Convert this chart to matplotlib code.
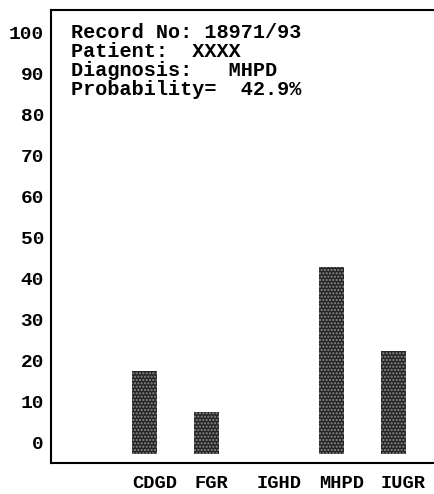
import matplotlib
matplotlib.use('Agg')
import matplotlib.pyplot as plt

# diagnosis probabilities (%)
groups = ['CDGD', 'FGR', 'IGHD', 'MHPD', 'IUGR']
probs = [17.4, 7.4, 0.0, 42.9, 22.3]
yticks = [0, 10, 20, 30, 40, 50, 60, 70, 80, 90, 100]
info = ['Record No: 18971/93',
        'Patient:  XXXX',
        'Diagnosis:   MHPD',
        'Probability=  42.9%']

plt.rcParams['font.family'] = ['Liberation Mono', 'DejaVu Sans Mono']
plt.rcParams['font.weight'] = 'bold'

fig = plt.figure(figsize=(4.34, 4.94), dpi=100)
ax = fig.add_axes([0.1175, 0.0628, 0.8825, 0.917])

base = -2.9
x = list(range(len(groups)))
w = 0.4
bx = [i for i, p in zip(x, probs) if p > 0]
bh = [p - base for p in probs if p > 0]
ax.bar(bx, bh, width=w, bottom=base, color='#262626', edgecolor='#8c8c8c',
       hatch='.....', linewidth=0)

ax.set_xlim(-1.50, 4.65)
ax.set_ylim(-5.0, 105.5)
ax.set_yticks(yticks)
ax.set_yticklabels([str(t) for t in yticks], fontsize=14, fontweight='bold')
ax.set_xticks([i - w / 2 for i in x])
ax.set_xticklabels(groups, fontsize=13.5, fontweight='bold', ha='left')
ax.tick_params(axis='both', length=0)
ax.tick_params(axis='y', pad=5)
ax.tick_params(axis='x', pad=9)

for s in ['left', 'bottom', 'top']:
    ax.spines[s].set_linewidth(1.5)
ax.spines['right'].set_visible(False)

for k, line in enumerate(info):
    ax.text(0.052, 0.950 - k * 0.0415, line, transform=ax.transAxes,
            fontsize=14.5, fontweight='bold', va='center', ha='left')

fig.savefig('out.png', dpi=100)
